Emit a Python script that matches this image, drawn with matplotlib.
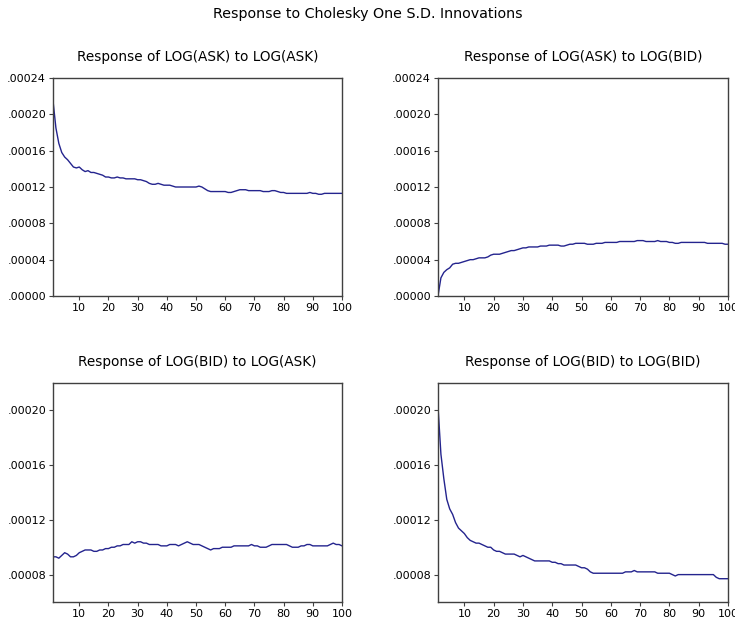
import numpy as np
import matplotlib.pyplot as plt
from matplotlib.ticker import FuncFormatter

plt.rcParams['font.family'] = ['DejaVu Sans']

periods = np.arange(1, 101)

# Response of LOG(ASK) to LOG(ASK)
ask_to_ask = [
    0.000215, 0.000185, 0.000168, 0.000158, 0.000153, 0.000150, 0.000146, 0.000142, 0.000141, 0.000142,
    0.000139, 0.000137, 0.000138, 0.000136, 0.000136, 0.000135, 0.000134, 0.000133, 0.000131, 0.000131,
    0.000130, 0.000130, 0.000131, 0.000130, 0.000130, 0.000129, 0.000129, 0.000129, 0.000129, 0.000128,
    0.000128, 0.000127, 0.000126, 0.000124, 0.000123, 0.000123, 0.000124, 0.000123, 0.000122, 0.000122,
    0.000122, 0.000121, 0.000120, 0.000120, 0.000120, 0.000120, 0.000120, 0.000120, 0.000120, 0.000120,
    0.000121, 0.000120, 0.000118, 0.000116, 0.000115, 0.000115, 0.000115, 0.000115, 0.000115, 0.000115,
    0.000114, 0.000114, 0.000115, 0.000116, 0.000117, 0.000117, 0.000117, 0.000116, 0.000116, 0.000116,
    0.000116, 0.000116, 0.000115, 0.000115, 0.000115, 0.000116, 0.000116, 0.000115, 0.000114, 0.000114,
    0.000113, 0.000113, 0.000113, 0.000113, 0.000113, 0.000113, 0.000113, 0.000113, 0.000114, 0.000113,
    0.000113, 0.000112, 0.000112, 0.000113, 0.000113, 0.000113, 0.000113, 0.000113, 0.000113, 0.000113,
]

# Response of LOG(ASK) to LOG(BID)
ask_to_bid = [
    0.000000, 0.000020, 0.000026, 0.000029, 0.000031, 0.000035, 0.000036, 0.000036, 0.000037, 0.000038,
    0.000039, 0.000040, 0.000040, 0.000041, 0.000042, 0.000042, 0.000042, 0.000043, 0.000045, 0.000046,
    0.000046, 0.000046, 0.000047, 0.000048, 0.000049, 0.000050, 0.000050, 0.000051, 0.000052, 0.000053,
    0.000053, 0.000054, 0.000054, 0.000054, 0.000054, 0.000055, 0.000055, 0.000055, 0.000056, 0.000056,
    0.000056, 0.000056, 0.000055, 0.000055, 0.000056, 0.000057, 0.000057, 0.000058, 0.000058, 0.000058,
    0.000058, 0.000057, 0.000057, 0.000057, 0.000058, 0.000058, 0.000058, 0.000059, 0.000059, 0.000059,
    0.000059, 0.000059, 0.000060, 0.000060, 0.000060, 0.000060, 0.000060, 0.000060, 0.000061, 0.000061,
    0.000061, 0.000060, 0.000060, 0.000060, 0.000060, 0.000061, 0.000060, 0.000060, 0.000060, 0.000059,
    0.000059, 0.000058, 0.000058, 0.000059, 0.000059, 0.000059, 0.000059, 0.000059, 0.000059, 0.000059,
    0.000059, 0.000059, 0.000058, 0.000058, 0.000058, 0.000058, 0.000058, 0.000058, 0.000057, 0.000057,
]

# Response of LOG(BID) to LOG(ASK)
bid_to_ask = [
    0.000093, 0.000093, 0.000092, 0.000094, 0.000096, 0.000095, 0.000093, 0.000093, 0.000094, 0.000096,
    0.000097, 0.000098, 0.000098, 0.000098, 0.000097, 0.000097, 0.000098, 0.000098, 0.000099, 0.000099,
    0.000100, 0.000100, 0.000101, 0.000101, 0.000102, 0.000102, 0.000102, 0.000104, 0.000103, 0.000104,
    0.000104, 0.000103, 0.000103, 0.000102, 0.000102, 0.000102, 0.000102, 0.000101, 0.000101, 0.000101,
    0.000102, 0.000102, 0.000102, 0.000101, 0.000102, 0.000103, 0.000104, 0.000103, 0.000102, 0.000102,
    0.000102, 0.000101, 0.000100, 0.000099, 0.000098, 0.000099, 0.000099, 0.000099, 0.000100, 0.000100,
    0.000100, 0.000100, 0.000101, 0.000101, 0.000101, 0.000101, 0.000101, 0.000101, 0.000102, 0.000101,
    0.000101, 0.000100, 0.000100, 0.000100, 0.000101, 0.000102, 0.000102, 0.000102, 0.000102, 0.000102,
    0.000102, 0.000101, 0.000100, 0.000100, 0.000100, 0.000101, 0.000101, 0.000102, 0.000102, 0.000101,
    0.000101, 0.000101, 0.000101, 0.000101, 0.000101, 0.000102, 0.000103, 0.000102, 0.000102, 0.000101,
]

# Response of LOG(BID) to LOG(BID)
bid_to_bid = [
    0.000203, 0.000168, 0.000150, 0.000135, 0.000128, 0.000124, 0.000118, 0.000114, 0.000112, 0.000110,
    0.000107, 0.000105, 0.000104, 0.000103, 0.000103, 0.000102, 0.000101, 0.000100, 0.000100, 0.000098,
    0.000097, 0.000097, 0.000096, 0.000095, 0.000095, 0.000095, 0.000095, 0.000094, 0.000093, 0.000094,
    0.000093, 0.000092, 0.000091, 0.000090, 0.000090, 0.000090, 0.000090, 0.000090, 0.000090, 0.000089,
    0.000089, 0.000088, 0.000088, 0.000087, 0.000087, 0.000087, 0.000087, 0.000087, 0.000086, 0.000085,
    0.000085, 0.000084, 0.000082, 0.000081, 0.000081, 0.000081, 0.000081, 0.000081, 0.000081, 0.000081,
    0.000081, 0.000081, 0.000081, 0.000081, 0.000082, 0.000082, 0.000082, 0.000083, 0.000082, 0.000082,
    0.000082, 0.000082, 0.000082, 0.000082, 0.000082, 0.000081, 0.000081, 0.000081, 0.000081, 0.000081,
    0.000080, 0.000079, 0.000080, 0.000080, 0.000080, 0.000080, 0.000080, 0.000080, 0.000080, 0.000080,
    0.000080, 0.000080, 0.000080, 0.000080, 0.000080, 0.000078, 0.000077, 0.000077, 0.000077, 0.000077,
]

titles = [
    "Response of LOG(ASK) to LOG(ASK)",
    "Response of LOG(ASK) to LOG(BID)",
    "Response of LOG(BID) to LOG(ASK)",
    "Response of LOG(BID) to LOG(BID)",
]
series = [ask_to_ask, ask_to_bid, bid_to_ask, bid_to_bid]
ylims = [(0.0, 0.00024), (0.0, 0.00024), (0.00006, 0.00022), (0.00006, 0.00022)]
yticks = [
    [0.0, 0.00004, 0.00008, 0.00012, 0.00016, 0.00020, 0.00024],
    [0.0, 0.00004, 0.00008, 0.00012, 0.00016, 0.00020, 0.00024],
    [0.00008, 0.00012, 0.00016, 0.00020],
    [0.00008, 0.00012, 0.00016, 0.00020],
]
xticks = [10, 20, 30, 40, 50, 60, 70, 80, 90, 100]

LINE = '#24248e'
FRAME = '#404040'

# axes boxes in figure fractions [left, bottom, width, height]
boxes = [
    [0.0721, 0.5241, 0.3932, 0.3505],
    [0.5959, 0.5241, 0.3946, 0.3505],
    [0.0721, 0.0322, 0.3932, 0.3520],
    [0.5959, 0.0322, 0.3946, 0.3520],
]
title_y = [0.9084, 0.9084, 0.4180, 0.4180]


def fmt(v, pos):
    return f"{v:.5f}".lstrip('0')


fig = plt.figure(figsize=(7.35, 6.22), dpi=100)
fig.text(0.5, 0.9775, "Response to Cholesky One S.D. Innovations",
         ha='center', va='center', fontsize=10.3)

for box, ty, title, y, yl, yt in zip(boxes, title_y, titles, series, ylims, yticks):
    ax = fig.add_axes(box)
    ax.plot(periods, y, color=LINE, lw=1.0)
    ax.set_xlim(1, 100)
    ax.set_ylim(*yl)
    ax.set_xticks(xticks)
    ax.set_yticks(yt)
    ax.yaxis.set_major_formatter(FuncFormatter(fmt))
    ax.tick_params(direction='out', length=3, width=0.8, color=FRAME,
                   labelsize=8, pad=2)
    for s in ax.spines.values():
        s.set_color(FRAME)
        s.set_linewidth(1.0)
    fig.text(box[0] + box[2] / 2, ty, title, ha='center', va='center', fontsize=9.8)

fig.savefig('out.png', dpi=100)
